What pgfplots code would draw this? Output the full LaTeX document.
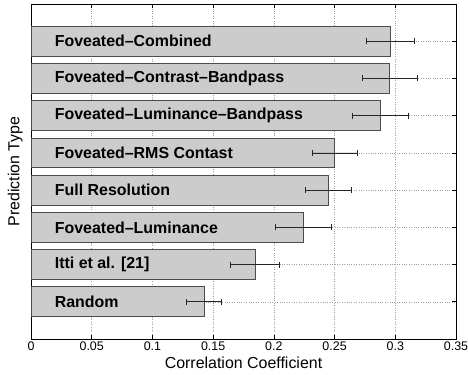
\documentclass[border=0pt]{standalone}
\usepackage{pgfplots}
\pgfplotsset{compat=1.18}
\usepackage{pgfplotstable}
\usepackage{fontspec}
\setmainfont{Liberation Sans}
\definecolor{barfill}{gray}{0.8}
\definecolor{baredge}{gray}{0.3}
\pgfplotstableread{
y x e
8 0.2960 0.0200
7 0.2955 0.0225
6 0.2875 0.0230
5 0.2500 0.0185
4 0.2450 0.0190
3 0.2240 0.0230
2 0.1845 0.0200
1 0.1425 0.0145
}\datatab
\begin{document}
\begin{tikzpicture}
\begin{axis}[
  scale only axis,
  width=425bp, height=335bp,
  xmin=0, xmax=0.35, ymin=0, ymax=9,
  xtick={0,0.05,0.1,0.15,0.2,0.25,0.3,0.35},
  xticklabels={0,0.05,0.1,0.15,0.2,0.25,0.3,0.35},
  ytick={1,2,3,4,5,6,7,8},
  yticklabels={},
  tick align=inside,
  major tick length=4bp,
  tick style={black, line width=0.6bp},
  grid=major,
  major grid style={dotted, gray!75, line width=0.5bp},
  axis line style={black, line width=0.8bp},
  /pgf/number format/assume math mode=true,
  ticklabel style={font=\fontsize{12.5}{14}\selectfont},
  xticklabel style={yshift=1bp},
  xlabel={Correlation Coefficient},
  ylabel={Prediction Type},
  label style={font=\fontsize{16}{18}\selectfont},
  xlabel style={yshift=0bp},
  ylabel style={yshift=-2bp},
]
\addplot[xbar, bar width=0.8, fill=barfill, draw=baredge, line width=0.8bp,
  error bars/.cd, x dir=both, x explicit,
  error bar style={black!85, line width=0.6bp},
  error mark options={rotate=90, mark size=3bp, black!85, line width=0.6bp}]
  table[x=x, y=y, x error=e] {\datatab};
\begin{scope}[every node/.style={anchor=west, font=\fontsize{16}{18}\selectfont\bfseries, inner sep=0pt}]
\node at (axis cs:0.0195,8) {Foveated–Combined};
\node at (axis cs:0.0195,7) {Foveated–Contrast–Bandpass};
\node at (axis cs:0.0195,6) {Foveated–Luminance–Bandpass};
\node at (axis cs:0.0195,5) {Foveated–RMS Contast};
\node at (axis cs:0.0195,4) {Full Resolution};
\node at (axis cs:0.0195,3) {Foveated–Luminance};
\node at (axis cs:0.0195,2) {Itti et al. [21]};
\node at (axis cs:0.0195,1) {Random};
\end{scope}
\end{axis}
\pgfresetboundingbox
\path[use as bounding box] ([shift={(-31bp,-36bp)}]current axis.south west) rectangle ([shift={(12bp,4bp)}]current axis.north east);
\end{tikzpicture}
\end{document}
